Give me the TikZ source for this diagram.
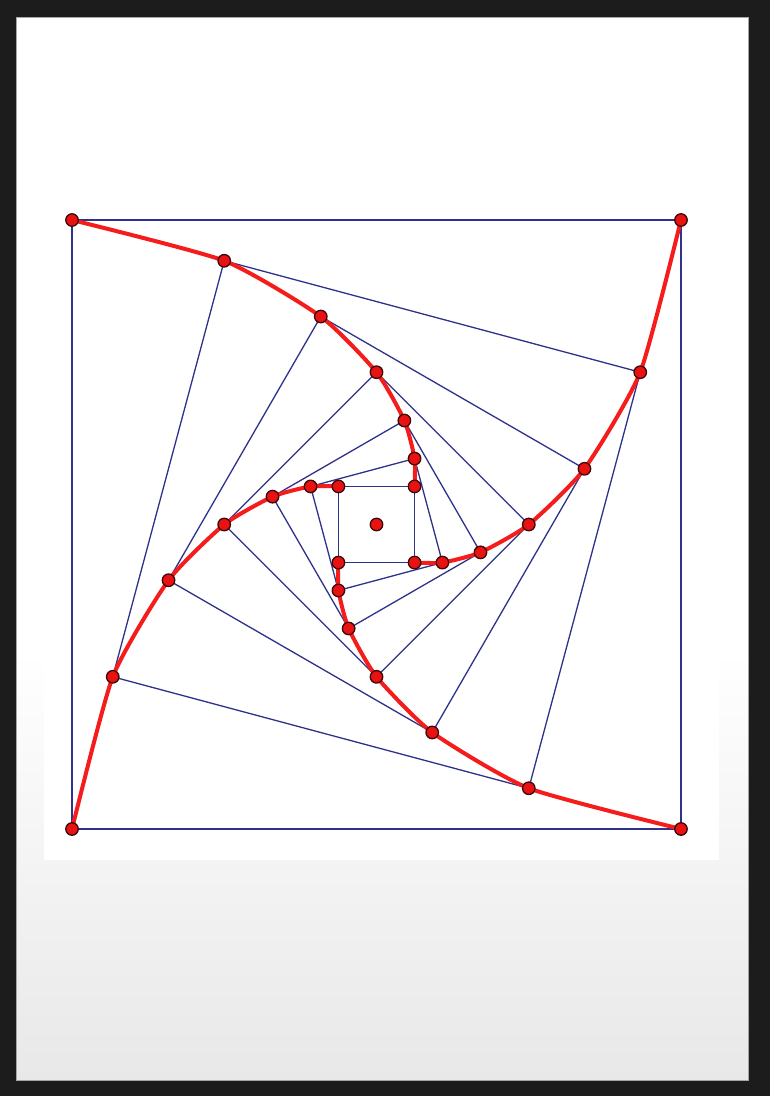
\documentclass[tikz,border=0pt]{standalone}
\definecolor{framec}{HTML}{1C1C1C}
\definecolor{bluel}{HTML}{2E3288}
\definecolor{redl}{HTML}{F51C1C}
\definecolor{redd}{HTML}{E81212}
\definecolor{dotline}{HTML}{3A0808}
\begin{document}
\begin{tikzpicture}[x=1pt,y=-1pt,
  sq/.style={draw=bluel, line width=1.3pt, line join=round},
  spiral/.style={draw=redl, line width=4pt, line join=round, line cap=round},
  dot/.style={circle, fill=redd, draw=dotline, line width=1.3pt, inner sep=0pt, minimum size=12.5pt}]
\useasboundingbox (0,0) rectangle (770,1096);
\fill[framec] (0,0) rectangle (770,1096);
\fill[white] (16,17) rectangle (748,651);
\shade[top color=white,bottom color=black!9] (16,650) rectangle (748,1080);
\draw[gray!70, line width=0.8pt] (16,17) rectangle (748,1080);
\fill[white] (44,189) rectangle (719,860);
\foreach \k in {0,...,6} {
  \pgfmathsetmacro\r{430.6*2^(-\k/2)}
  \foreach \j in {0,...,3} {
    \pgfmathsetmacro\a{-135+90*\j+15*\k}
    \coordinate (p-\j-\k) at ({376.5+\r*cos(\a)},{524.5+\r*sin(\a)});
  }
  \draw[sq] (p-0-\k) -- (p-1-\k) -- (p-2-\k) -- (p-3-\k) -- cycle;
}
\foreach \j in {0,...,3} {
  \draw[spiral] plot[smooth, tension=0.35] coordinates {(p-\j-0) (p-\j-1) (p-\j-2) (p-\j-3) (p-\j-4) (p-\j-5) (p-\j-6)};
}
\foreach \k in {0,...,6} {
  \foreach \j in {0,...,3} {
    \node[dot] (d-\j-\k) at (p-\j-\k) {};
  }
}
\node[dot] (c) at (376.5,524.5) {};
\end{tikzpicture}
\end{document}
